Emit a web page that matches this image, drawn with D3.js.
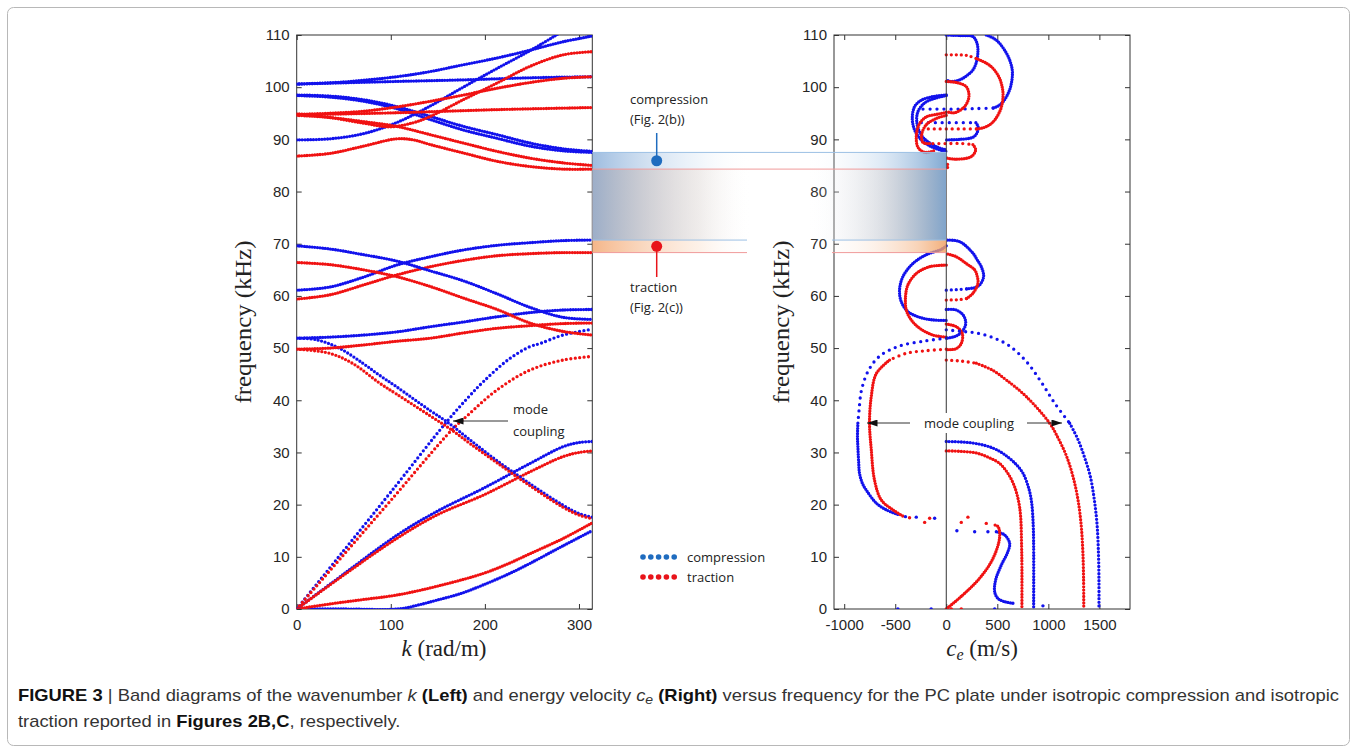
<!DOCTYPE html>
<html>
<head>
<meta charset="utf-8">
<script src="https://cdn.jsdelivr.net/npm/d3@7"></script>
<style>
  body { margin: 0; background: #fff; }
</style>
</head>
<body>
<svg id="fig" width="1357" height="752"></svg>
<script>
// ---- ticks ----
const fTicks = [0, 10, 20, 30, 40, 50, 60, 70, 80, 90, 100, 110];
const kTicks = [0, 100, 200, 300];
const ceTicks = [-1000, -500, 0, 500, 1000, 1500];

// ---- left panel: k (rad/m) vs frequency (kHz) ----
const kBlue1 = [[0,0],[50,0],[108,0],[130,0.8],[149,1.7],[175,3.0],[198,4.6],[225,6.7],[248,8.75],[283,12.1],[314,15.0]];
const kRed1 = [[0,0],[35,0.96],[70,1.8],[107,2.7],[150,4.4],[198,6.8],[225,8.7],[248,10.6],[283,13.5],[314,16.5]];
const kBlue2 = [[0,0],[50,6.7],[107,14.2],[150,18.8],[198,23.1],[248,27.9],[283,31.1],[300,31.9],[314,32.1]];
const kRed2 = [[0,0],[50,6.5],[107,13.6],[150,18.1],[198,21.8],[248,26.3],[283,29.2],[300,30.0],[314,30.3]];
const kBlue3 = [[0,0],[50,11.2],[100,22.4],[159.5,35.9],[182,40.5],[198,43.5],[225,47.8],[248,50.3],[259,50.9],[283,52.5],[314,53.6]];
const kRed3 = [[0,0],[50,10.4],[100,20.8],[164.8,34.3],[181,37.0],[213,42.0],[248,45.8],[283,47.7],[314,48.4]];
const kBlue4 = [[0,51.9],[21,51.6],[45,50.0],[71,47.0],[88,44.8],[106,42.6],[142,38.0],[159.5,35.9],[185,32.3],[213,28.4],[248,24.0],[283,19.9],[300,18.3],[314,17.6]];
const kRed4 = [[0,49.8],[35,49.0],[60,47.0],[88,43.3],[106,41.2],[142,37.0],[164.8,34.3],[185,31.6],[213,28.0],[248,23.6],[283,19.5],[300,18.0],[314,17.3]];
const kBlue5 = [[0,51.9],[35,52.1],[71,52.5],[106,53.1],[142,54.1],[177,55.0],[213,56.0],[248,56.8],[283,57.3],[314,57.4]];
const kRed5 = [[0,49.8],[35,50.0],[71,50.6],[106,51.3],[142,51.9],[177,52.9],[213,53.8],[248,54.3],[283,54.7],[314,54.8]];
const kBlue6 = [[0,61.1],[35,61.7],[71,63.6],[106,65.9],[142,67.5],[177,68.8],[213,69.7],[248,70.2],[283,70.6],[314,70.7]];
const kRed6 = [[0,59.4],[35,60.2],[71,62.1],[106,64.0],[142,65.6],[177,66.8],[213,67.7],[248,68.1],[283,68.3],[314,68.3]];
const kBlue7 = [[0,69.6],[35,69.0],[71,67.9],[106,66.7],[142,64.8],[177,62.9],[213,60.4],[248,57.8],[283,55.9],[314,55.5]];
const kRed7 = [[0,66.4],[35,66.0],[71,65.0],[106,63.7],[142,61.8],[177,59.6],[213,57.4],[248,54.8],[283,53.2],[314,52.5]];
const kBlue8 = [[0,89.9],[35,90.1],[71,91.1],[106,93.2],[142,96.4],[177,100.0],[213,103.6],[248,107.0],[276,110],[290,111.5]];
const kBlue9 = [[0,100.6],[50,101.0],[106,102.0],[142,103.0],[177,104.3],[213,105.6],[248,107.1],[283,108.7],[314,109.8]];
const kBlue10 = [[0,100.6],[106,101.1],[177,101.4],[248,101.8],[314,102.0]];
const kBlue11 = [[0,98.5],[35,98.3],[71,97.6],[106,96.3],[142,94.4],[177,92.5],[213,90.9],[248,89.3],[283,88.2],[314,87.7]];
const kBlue12 = [[0,98.4],[35,98.1],[71,97.3],[106,95.9],[142,93.8],[177,91.8],[213,90.2],[248,88.7],[283,87.8],[314,87.5]];
const kRed8 = [[0,94.9],[35,94.2],[71,93.1],[99,92.4],[124,93.2],[142,94.4],[177,97.6],[213,100.8],[248,104.0],[283,106.2],[314,106.8]];
const kRed9 = [[0,94.8],[35,95.0],[71,95.4],[106,96.2],[142,97.3],[177,98.5],[213,99.8],[248,100.9],[283,101.7],[314,102.0]];
const kRed10 = [[0,94.7],[106,95.1],[213,95.7],[314,96.1]];
const kRed11 = [[0,94.6],[35,94.2],[71,93.4],[106,92.5],[142,90.9],[177,89.3],[213,87.7],[248,86.4],[283,85.5],[314,85.0]];
const kRed12 = [[0,86.8],[35,87.3],[71,88.7],[106,90.1],[124,89.9],[142,89.0],[177,87.4],[213,85.8],[248,84.8],[283,84.3],[314,84.3]];

// ---- right panel: energy velocity c_e (m/s) vs frequency (kHz) ----
const ceBlueA = [[392,110],[470,109.3],[523,108.4],[590,106.5],[621,105.2],[645,103.5],[647,102],[635,100.5],[621,99.5],[590,98.2],[556,97.2],[500,96.3],[458,96.0]];
const ceBlueAdots = [[458,96.0],[300,95.9],[100,95.8],[-100,95.8],[-245,95.8]];
const ceBlueB = [[0,110],[130,109.9],[261,109.7],[300,108.5],[310,106.8],[295,104.8],[261,103.3],[200,102.2],[131,101.4],[33,101.1],[0,101.5]];
const ceBlueC = [[0,98.5],[-131,98.2],[-245,97.5],[-310,96.3],[-333,94.0],[-310,91.8],[-245,89.9],[-147,88.6],[-49,87.9],[0,87.7]];
const ceBlueD = [[0,98.4],[-196,97.2],[-278,95.3],[-285,92.8],[-229,90.4],[-98,88.6],[0,88.0]];
const ceBlueEdots = [[-245,93.2],[-100,93.2],[100,93.2],[290,93.2]];
const ceBlueE = [[290,93.2],[312,92.4],[300,91.2],[261,90.4],[131,90.0],[0,89.9]];
const ceRedAdots = [[0,106.2],[100,106.2],[200,106.1],[294,105.5]];
const ceRedA = [[294,105.5],[392,104.6],[458,103.6],[520,101.8],[550,99.8],[556,98.2],[540,96.2],[510,94.8],[470,93.6],[425,92.8],[360,92.2],[294,92.0]];
const ceRedAdots2 = [[294,92.0],[150,92.0],[0,92.0],[-120,92.0],[-229,92.0]];
const ceRedB = [[0,101.1],[98,100.9],[196,100.1],[222,98.2],[180,96.3],[82,95.1],[6,95.3]];
const ceRedC = [[0,95.2],[-65,94.9],[-196,94.3],[-268,92.8],[-294,90.3],[-275,88.4],[-210,87.5],[-120,87.8]];
const ceRedD = [[0,94.6],[-98,94.0],[-196,92.8],[-240,91.0],[-229,89.4],[-160,89.2]];
const ceRedEdots = [[-131,89.2],[0,89.2],[150,89.2],[261,89.0]];
const ceRedE = [[261,89.0],[288,88.0],[245,86.7],[98,86.2],[6,86.4]];
const ceBlueFdots = [[0,61.1],[98,61.2],[200,61.35]];
const ceBlueF = [[200,61.35],[280,61.6],[327,62.1],[366,63.7],[343,65.6],[300,67.0],[261,68.2],[131,70.4],[0,70.7]];
const ceRedFdots = [[0,59.2],[131,59.3],[200,59.5]];
const ceRedF = [[200,59.5],[261,60.5],[310,62.4],[300,64.0],[278,65.0],[196,66.2],[98,67.5],[0,68.1]];
const ceBlueG = [[0,69.6],[-49,68.9],[-196,67.9],[-327,66.2],[-425,63.7],[-458,61.1],[-441,58.9],[-376,57.0],[-261,55.9],[-131,55.4],[0,55.3]];
const ceRedG = [[0,65.9],[-163,65.6],[-294,64.3],[-376,62.1],[-399,59.9],[-392,57.3],[-343,55.4],[-261,53.8],[-131,52.5],[0,52.1]];
const ceBlueH = [[0,57.4],[98,57.3],[170,56.2],[190,54.6],[147,53.0],[82,52.2],[0,51.9]];
const ceRedH = [[0,54.6],[98,54.1],[157,52.8],[147,50.9],[98,49.9],[0,49.7]];
const ceBlueIdots = [[0,53.5],[150,53.2],[294,52.9],[458,52.0],[621,50.4],[790,47.3],[930,43.5],[1060,39.5],[1209,35.6]];
const ceBlueI = [[1209,35.6],[1290,32.5],[1356,29.0],[1410,25.5],[1450,21],[1478,16],[1492,10],[1496,5],[1496,0.4]];
const ceRedIdots = [[0,47.7],[150,47.5],[294,47.1]];
const ceRedI = [[294,47.1],[450,45.8],[588,43.9],[784,40.7],[1013,35.6],[1100,32.6],[1176,29.4],[1240,25.5],[1290,21],[1322,16],[1338,11],[1345,6],[1347,0.4]];
const ceBlueJ = [[0,32.1],[150,32.0],[294,31.7],[450,30.9],[556,29.8],[680,27.8],[752,26.0],[810,23],[837,20.3],[852,16],[856,12],[856,0.4]];
const ceRedJ = [[0,30.3],[150,30.2],[294,29.9],[420,29.0],[523,27.9],[610,25.8],[670,23.4],[710,20.5],[729,17.6],[738,12],[741,8],[741,0.4]];
const ceBlueKdots = [[0,51.9],[-196,51.4],[-458,50.4],[-650,48.5],[-760,45.8],[-830,42],[-855,38],[-866,35.6]];
const ceBlueK = [[-866,35.6],[-870,33],[-866,31.1],[-858,28],[-850,26],[-820,24],[-784,22.8],[-686,20.3],[-588,19.0],[-458,18.0]];
const ceRedKdots = [[0,49.8],[-196,49.5],[-392,49.0],[-556,47.7]];
const ceRedK = [[-556,47.7],[-686,45.1],[-735,40.7],[-752,35.6],[-735,30.6],[-703,24.7],[-637,20.9],[-523,19.0],[-425,17.8]];
const ceBlueL = [[490,14.8],[572,14.2],[621,12.6],[604,11.0],[539,8.4],[484,5.6],[474,3.3],[507,2.0],[572,1.4],[654,1.1]];
const ceRedL = [[0,0],[163,2.7],[327,5.9],[458,9.7],[523,13.8],[507,15.8],[474,16.1]];
const ceBlueSingles = [[-400,17.7],[-294,17.6],[-114,17.4],[104,15.0],[278,14.8],[408,14.8],[-474,0],[-148,0],[474,0],[947,0.6]];
const ceRedSingles = [[-360,17.5],[-212,16.6],[-163,17.4],[392,16.4],[212,17.6],[147,16.6],[49,0],[147,0],[12,85.2],[12,84.6]];

// band gaps (kHz)
const gapCompression = [70.7, 87.5];
const gapTraction = [68.3, 84.3];

const BLUE = "#1212ec", RED = "#f01212";
const LEG_BLUE = "#1f6cbf", LEG_RED = "#e8141a";

const svg = d3.select("#fig");
const defs = svg.append("defs");

let fScale = d3.scaleLinear().domain([0, 110]).range([609, 35]);
let kScale = d3.scaleLinear().domain([0, Math.PI * 100]).range([296.7, 592.3]);
let ceScale = d3.scaleLinear().domain([-1100, 1800]).range([834, 1130]);

// outer frame
svg.append("rect")
    .attr("x", 7.5).attr("y", 7.5).attr("width", 1342).attr("height", 738)
    .attr("rx", 6).attr("fill", "none").attr("stroke", "#b8b8b8");

function drawPanel(xs, xTicks, name) {
    let g = svg.append("g");
    let x0 = xs.range()[0], x1 = xs.range()[1];
    let y0 = fScale(110), y1 = fScale(0);

    defs.append("clipPath").attr("id", "clip" + name)
        .append("rect").attr("x", x0).attr("y", y0)
        .attr("width", x1 - x0).attr("height", y1 - y0);

    let styleAxis = function (a) {
        a.select(".domain").remove();
        a.selectAll(".tick line").attr("stroke", "#333");
        a.selectAll("text").attr("font-size", 15)
            .attr("font-family", "Liberation Sans, Arial, sans-serif")
            .attr("fill", "#262626");
    };
    let plain = d => String(d);

    g.append("g").attr("transform", `translate(0,${y1})`)
        .call(d3.axisBottom(xs).tickValues(xTicks).tickFormat(plain).tickSizeInner(-5).tickSizeOuter(0).tickPadding(10))
        .call(styleAxis);
    g.append("g").attr("transform", `translate(0,${y0})`)
        .call(d3.axisTop(xs).tickValues(xTicks).tickSizeInner(-5).tickSizeOuter(0).tickFormat(() => ""))
        .call(styleAxis);
    g.append("g").attr("transform", `translate(${x0},0)`)
        .call(d3.axisLeft(fScale).tickValues(fTicks).tickFormat(plain).tickSizeInner(-5).tickSizeOuter(0).tickPadding(7))
        .call(styleAxis);
    g.append("g").attr("transform", `translate(${x1},0)`)
        .call(d3.axisRight(fScale).tickValues(fTicks).tickSizeInner(-5).tickSizeOuter(0).tickFormat(() => ""))
        .call(styleAxis);

    g.append("rect").attr("x", x0).attr("y", y0)
        .attr("width", x1 - x0).attr("height", y1 - y0)
        .attr("fill", "none").attr("stroke", "#333").attr("stroke-width", 1);

    return g.append("g").attr("clip-path", `url(#clip${name})`);
}

function drawSeries(g, xs, list) {
    let line = d3.line()
        .x(d => xs(d[0]))
        .y(d => fScale(d[1]))
        .curve(d3.curveCatmullRom.alpha(0.5));
    list.forEach(function (s) {
        g.append("path")
            .attr("d", line(s.pts))
            .attr("fill", "none")
            .attr("stroke", s.c)
            .attr("stroke-width", 3.3)
            .attr("stroke-linecap", "round")
            .attr("stroke-dasharray", `0 ${s.gap}`);
    });
}

function drawSingles(g, xs, pts, color) {
    g.append("g").selectAll("circle")
        .data(pts)
        .enter().append("circle")
        .attr("cx", d => xs(d[0]))
        .attr("cy", d => fScale(d[1]))
        .attr("r", 1.7)
        .attr("fill", color);
}

// ---- left panel ----
let leftData = drawPanel(kScale, kTicks, "L");
drawSeries(leftData, kScale, [
    {pts: kBlue1, c: BLUE, gap: 2.6}, {pts: kRed1, c: RED, gap: 2.6},
    {pts: kBlue2, c: BLUE, gap: 3.0}, {pts: kRed2, c: RED, gap: 3.0},
    {pts: kBlue3, c: BLUE, gap: 4.4}, {pts: kRed3, c: RED, gap: 4.4},
    {pts: kBlue4, c: BLUE, gap: 3.6}, {pts: kRed4, c: RED, gap: 3.6},
    {pts: kBlue5, c: BLUE, gap: 2.6}, {pts: kRed5, c: RED, gap: 2.6},
    {pts: kBlue6, c: BLUE, gap: 2.6}, {pts: kRed6, c: RED, gap: 2.6},
    {pts: kBlue7, c: BLUE, gap: 2.6}, {pts: kRed7, c: RED, gap: 2.6},
    {pts: kBlue8, c: BLUE, gap: 2.8}, {pts: kBlue9, c: BLUE, gap: 2.6},
    {pts: kBlue10, c: BLUE, gap: 2.6}, {pts: kBlue11, c: BLUE, gap: 2.6},
    {pts: kBlue12, c: BLUE, gap: 2.6},
    {pts: kRed8, c: RED, gap: 2.8}, {pts: kRed9, c: RED, gap: 2.6},
    {pts: kRed10, c: RED, gap: 2.6}, {pts: kRed11, c: RED, gap: 2.6},
    {pts: kRed12, c: RED, gap: 2.6}
]);

// ---- right panel ----
let rightData = drawPanel(ceScale, ceTicks, "R");
svg.append("line")
    .attr("x1", ceScale(0)).attr("x2", ceScale(0))
    .attr("y1", fScale(110)).attr("y2", fScale(0))
    .attr("stroke", "#333").attr("stroke-width", 1);

drawSeries(rightData, ceScale, [
    {pts: ceBlueA, c: BLUE, gap: 2.4}, {pts: ceBlueAdots, c: BLUE, gap: 7},
    {pts: ceBlueB, c: BLUE, gap: 2.4}, {pts: ceBlueC, c: BLUE, gap: 2.4},
    {pts: ceBlueD, c: BLUE, gap: 2.4}, {pts: ceBlueEdots, c: BLUE, gap: 7},
    {pts: ceBlueE, c: BLUE, gap: 2.4},
    {pts: ceRedAdots, c: RED, gap: 5}, {pts: ceRedA, c: RED, gap: 2.4},
    {pts: ceRedAdots2, c: RED, gap: 6}, {pts: ceRedB, c: RED, gap: 2.4},
    {pts: ceRedC, c: RED, gap: 2.4}, {pts: ceRedD, c: RED, gap: 2.4},
    {pts: ceRedEdots, c: RED, gap: 6}, {pts: ceRedE, c: RED, gap: 2.4},
    {pts: ceBlueFdots, c: BLUE, gap: 5}, {pts: ceBlueF, c: BLUE, gap: 2.4},
    {pts: ceRedFdots, c: RED, gap: 5}, {pts: ceRedF, c: RED, gap: 2.4},
    {pts: ceBlueG, c: BLUE, gap: 2.4}, {pts: ceRedG, c: RED, gap: 2.4},
    {pts: ceBlueH, c: BLUE, gap: 2.4}, {pts: ceRedH, c: RED, gap: 2.4},
    {pts: ceBlueIdots, c: BLUE, gap: 6.5}, {pts: ceBlueI, c: BLUE, gap: 3.6},
    {pts: ceRedIdots, c: RED, gap: 5.5}, {pts: ceRedI, c: RED, gap: 3.2},
    {pts: ceBlueJ, c: BLUE, gap: 3.0}, {pts: ceRedJ, c: RED, gap: 3.0},
    {pts: ceBlueKdots, c: BLUE, gap: 6.5}, {pts: ceBlueK, c: BLUE, gap: 2.6},
    {pts: ceRedKdots, c: RED, gap: 6}, {pts: ceRedK, c: RED, gap: 2.6},
    {pts: ceBlueL, c: BLUE, gap: 2.4}, {pts: ceRedL, c: RED, gap: 2.4}
]);
drawSingles(rightData, ceScale, ceBlueSingles, BLUE);
drawSingles(rightData, ceScale, ceRedSingles, RED);

// ---- band gap shading between the panels ----
function grad(id, stops) {
    let lg = defs.append("linearGradient").attr("id", id)
        .attr("x1", 0).attr("x2", 1).attr("y1", 0).attr("y2", 0);
    stops.forEach(s => lg.append("stop").attr("offset", s[0])
        .attr("stop-color", s[1]).attr("stop-opacity", s[2]));
}
grad("gT", [[0, "#f2a46c", 0.8], [0.3, "#f8d0b2", 0.3], [0.45, "#ffffff", 0],
    [0.62, "#ffffff", 0], [0.78, "#f7d2b8", 0.25], [0.92, "#f3b07e", 0.55], [1, "#f0a062", 0.85]]);
grad("gC", [[0, "#86acd8", 0.8], [0.3, "#cddff1", 0.3], [0.45, "#ffffff", 0],
    [0.6, "#ffffff", 0], [0.82, "#b5cfe9", 0.45], [1, "#7aa4d0", 0.95]]);

let bx0 = kScale.range()[1], bx1 = ceScale(0);
svg.append("rect").attr("x", bx0).attr("width", bx1 - bx0)
    .attr("y", fScale(gapTraction[1])).attr("height", fScale(gapTraction[0]) - fScale(gapTraction[1]))
    .attr("fill", "url(#gT)");
svg.append("rect").attr("x", bx0).attr("width", bx1 - bx0)
    .attr("y", fScale(gapCompression[1])).attr("height", fScale(gapCompression[0]) - fScale(gapCompression[1]))
    .attr("fill", "url(#gC)");

function hline(f, color, segs) {
    segs.forEach(s => svg.append("line")
        .attr("x1", s[0]).attr("x2", s[1])
        .attr("y1", fScale(f)).attr("y2", fScale(f))
        .attr("stroke", color).attr("stroke-width", 1));
}
hline(gapCompression[1], "#9cc0e4", [[bx0, bx1]]);
hline(gapTraction[1], "#f09a9a", [[bx0, bx1]]);
hline(gapCompression[0], "#9cc0e4", [[bx0, 747], [832, bx1]]);
hline(gapTraction[0], "#f09a9a", [[bx0, 747], [832, bx1]]);

// pins
let pinX = 656.7;
let yC = fScale((gapCompression[1] + gapTraction[1]) / 2);
let yT = fScale((gapCompression[0] + gapTraction[0]) / 2);
svg.append("line").attr("x1", pinX).attr("x2", pinX).attr("y1", 133).attr("y2", yC)
    .attr("stroke", LEG_BLUE).attr("stroke-width", 1.5);
svg.append("circle").attr("cx", pinX).attr("cy", yC).attr("r", 5.5).attr("fill", LEG_BLUE);
svg.append("line").attr("x1", pinX).attr("x2", pinX).attr("y1", yT).attr("y2", 277)
    .attr("stroke", LEG_RED).attr("stroke-width", 1.5);
svg.append("circle").attr("cx", pinX).attr("cy", yT).attr("r", 5.5).attr("fill", LEG_RED);

function note(x, y, str) {
    return svg.append("text").attr("x", x).attr("y", y)
        .attr("font-family", "Open Sans, Lato, sans-serif")
        .attr("font-size", 13).attr("fill", "#222").text(str);
}
note(630, 104, "compression");
note(630, 124, "(Fig. 2(b))");
note(630, 292, "traction");
note(630, 312, "(Fig. 2(c))");

// ---- mode coupling annotations ----
defs.append("marker").attr("id", "arr")
    .attr("viewBox", "0 0 12 8").attr("refX", 12).attr("refY", 4)
    .attr("markerWidth", 13).attr("markerHeight", 7)
    .attr("markerUnits", "userSpaceOnUse").attr("orient", "auto")
    .append("path").attr("d", "M0,0L12,4L0,8z").attr("fill", "#111");

svg.append("line").attr("x1", 508).attr("x2", 453).attr("y1", 421).attr("y2", 421)
    .attr("stroke", "#333").attr("stroke-width", 1).attr("marker-end", "url(#arr)");
note(513, 414, "mode");
note(513, 436, "coupling");

svg.append("rect").attr("x", 916).attr("y", 413).attr("width", 106).attr("height", 20).attr("fill", "#fff");
note(969, 428, "mode coupling").attr("text-anchor", "middle");
svg.append("line").attr("x1", 910).attr("x2", 867).attr("y1", 423).attr("y2", 423)
    .attr("stroke", "#333").attr("stroke-width", 1).attr("marker-end", "url(#arr)");
svg.append("line").attr("x1", 1027).attr("x2", 1062).attr("y1", 423).attr("y2", 423)
    .attr("stroke", "#333").attr("stroke-width", 1).attr("marker-end", "url(#arr)");

// ---- legend ----
let legend = [{name: "compression", c: LEG_BLUE, y: 557}, {name: "traction", c: LEG_RED, y: 577}];
legend.forEach(function (l) {
    svg.append("g").selectAll("circle").data([0, 1, 2, 3, 4]).enter().append("circle")
        .attr("cx", i => 643 + i * 7.8).attr("cy", l.y).attr("r", 2.8).attr("fill", l.c);
    note(687, l.y + 4.5, l.name);
});

// ---- axis titles ----
function serif(x, y) {
    return svg.append("text").attr("x", x).attr("y", y)
        .attr("font-family", "Liberation Serif, DejaVu Serif, serif")
        .attr("font-size", 23).attr("fill", "#222");
}
serif(0, 0).attr("transform", "translate(251,322) rotate(-90)").attr("text-anchor", "middle")
    .attr("textLength", 163).attr("lengthAdjust", "spacingAndGlyphs").text("frequency (kHz)");
serif(0, 0).attr("transform", "translate(789,322) rotate(-90)").attr("text-anchor", "middle")
    .attr("textLength", 163).attr("lengthAdjust", "spacingAndGlyphs").text("frequency (kHz)");

let kl = serif(444, 656).attr("text-anchor", "middle");
kl.append("tspan").attr("font-style", "italic").text("k");
kl.append("tspan").text(" (rad/m)");

let cl = serif(982, 656).attr("text-anchor", "middle");
cl.append("tspan").attr("font-style", "italic").text("c");
cl.append("tspan").attr("font-style", "italic").attr("font-size", 16).attr("dy", 4).text("e");
cl.append("tspan").attr("dy", -4).text(" (m/s)");

// ---- caption ----
function caption(y) {
    return svg.append("text").attr("x", 18).attr("y", y)
        .attr("font-family", "Liberation Sans Narrow, Liberation Sans, Arial, sans-serif")
        .attr("font-size", 17).attr("fill", "#333");
}
let cap1 = caption(701);
cap1.append("tspan").attr("font-weight", "bold").attr("fill", "#111").text("FIGURE 3");
cap1.append("tspan").text(" | Band diagrams of the wavenumber ");
cap1.append("tspan").attr("font-style", "italic").text("k");
cap1.append("tspan").attr("font-weight", "bold").attr("fill", "#111").text(" (Left)");
cap1.append("tspan").text(" and energy velocity ");
cap1.append("tspan").attr("font-style", "italic").text("c");
cap1.append("tspan").attr("font-style", "italic").attr("font-size", 13).attr("dy", 3).text("e");
cap1.append("tspan").attr("font-weight", "bold").attr("fill", "#111").attr("dy", -3).text(" (Right)");
cap1.append("tspan").text(" versus frequency for the PC plate under isotropic compression and isotropic");

let cap2 = caption(727);
cap2.append("tspan").text("traction reported in ");
cap2.append("tspan").attr("font-weight", "bold").attr("fill", "#111").text("Figures 2B,C");
cap2.append("tspan").text(", respectively.");

// stretch both lines by the same factor so the first line spans the full width
let stretch = 1321 / cap1.node().getComputedTextLength();
[cap1, cap2].forEach(function (t) {
    t.attr("textLength", t.node().getComputedTextLength() * stretch)
        .attr("lengthAdjust", "spacingAndGlyphs");
});
</script>
</body>
</html>
